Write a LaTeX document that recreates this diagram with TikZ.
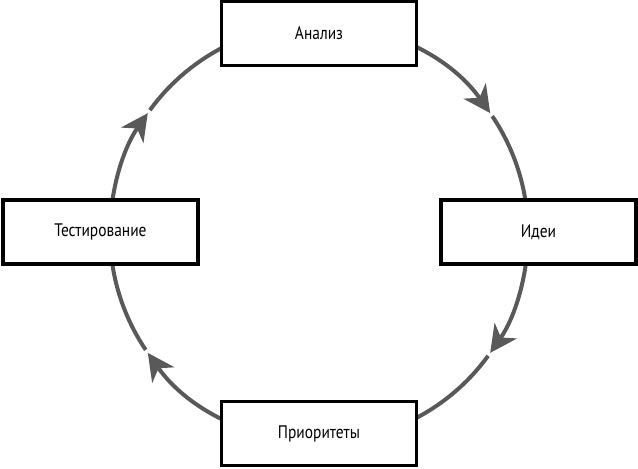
\documentclass[tikz,border=0pt]{standalone}
\usepackage{fontspec}
\setmainfont{PT Sans}[FakeStretch=0.85]
\usetikzlibrary{arrows.meta, positioning}

\tikzset{
  stage/.style={draw=black, line width=2.6pt, fill=white, inner sep=0pt,
    minimum width=5.85cm, minimum height=1.92cm, font=\fontsize{15.5}{18}\selectfont},
  cycle/.style={draw=black!65, line width=3.4pt},
  tip/.style={cycle, -{Stealth[length=23pt, width=23pt, inset=7pt]}},
}

\begin{document}
\begin{tikzpicture}[x=0.03cm, y=0.03cm]
    \useasboundingbox (-319,-235) rectangle (319,233);
    \def\R{209}

    % Cycle arcs, one arrow between two boxes
    \foreach \a/\t in {90/35, 0/-35, -90/-145, -180/-215} {
        \draw[tip] (\a:\R) arc[start angle=\a, end angle=\t, radius=\R];
        \draw[cycle] (\t-1:\R) arc[start angle=\t-1, end angle=\a-90, radius=\R];
    }

    % Stages
    \node[stage] (ana) at (0,199.5) {Анализ};
    \node[stage] (ide) at (219.5,1) {Идеи};
    \node[stage] (pri) at (0,-200.5) {Приоритеты};
    \node[stage] (tes) at (-218.5,1) {Тестирование};
\end{tikzpicture}
\end{document}
